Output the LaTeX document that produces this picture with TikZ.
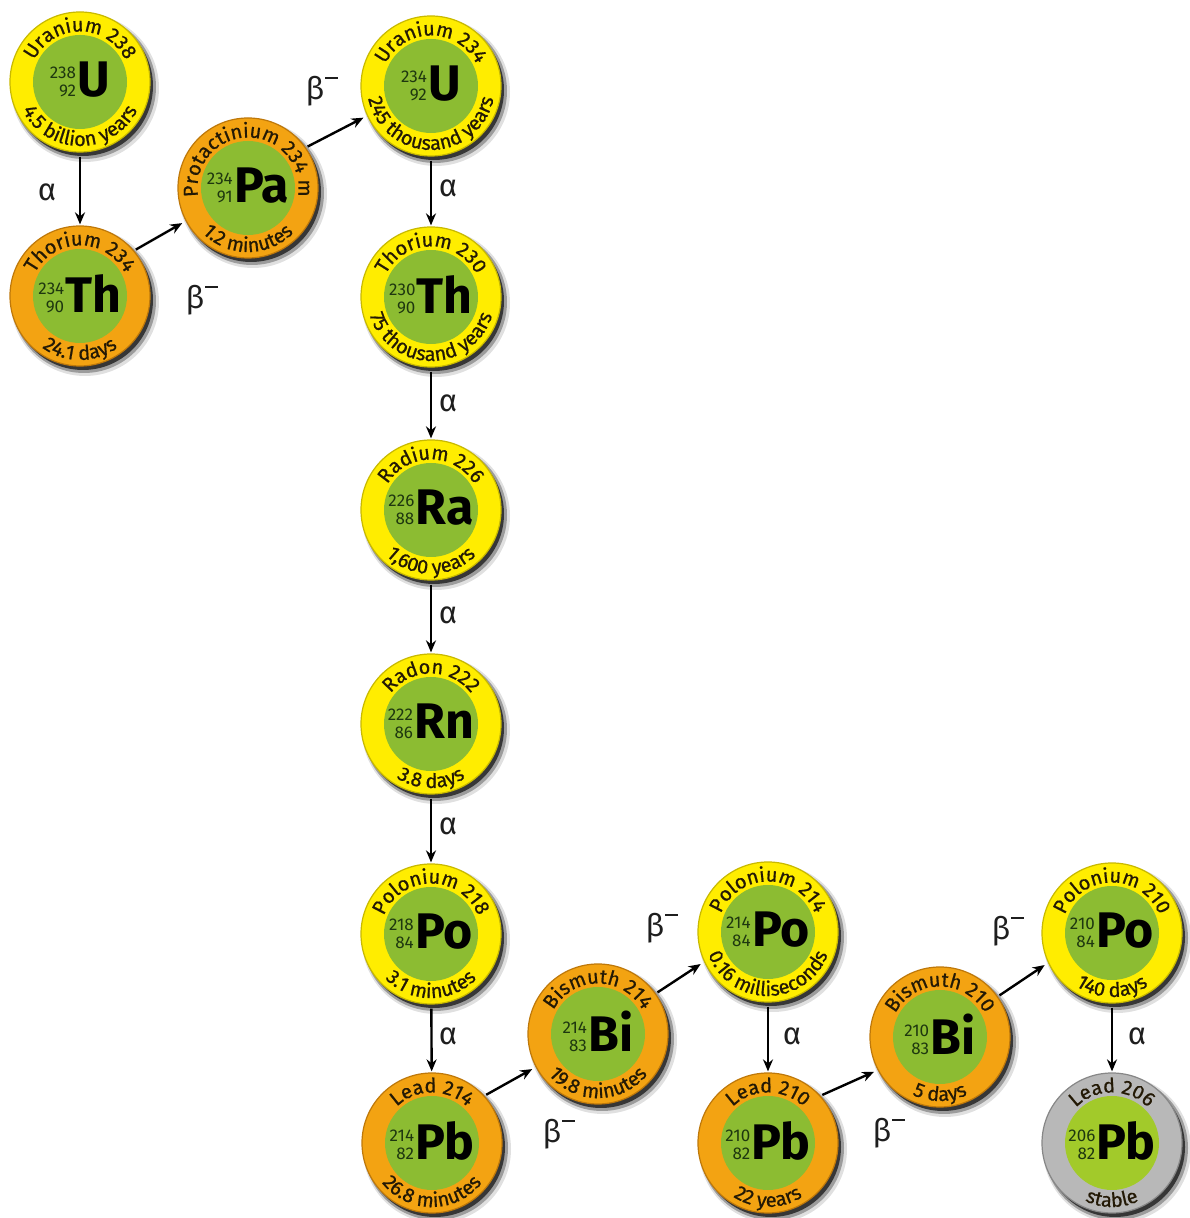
\documentclass[tikz,border=0pt]{standalone}
\usepackage{fontspec}
\setmainfont{Fira Sans}
\newfontfamily\ringfam{Fira Sans}[RawFeature={embolden=0.7}]
\usetikzlibrary{decorations.text,arrows.meta}
\definecolor{ring-y}{RGB}{255,237,0}
\definecolor{edge-y}{RGB}{200,185,0}
\definecolor{core-y}{RGB}{140,188,50}
\definecolor{ring-o}{RGB}{243,163,18}
\definecolor{edge-o}{RGB}{190,120,10}
\definecolor{core-o}{RGB}{140,188,50}
\definecolor{ring-g}{RGB}{184,184,184}
\definecolor{edge-g}{RGB}{135,135,135}
\definecolor{core-g}{RGB}{162,202,42}
\definecolor{numgreen}{RGB}{30,55,15}
\definecolor{ringtext}{RGB}{35,25,5}
\definecolor{labtext}{RGB}{30,30,30}
\newcommand\ringfont{\ringfam\fontsize{20}{20}\selectfont\color{ringtext}}
\newcommand\nucsym[3]{{\fontsize{17}{18}\selectfont\color{numgreen}\begin{tabular}[b]{@{}r@{}}#1\\#2\end{tabular}}\kern1.5pt{\fontsize{50}{50}\selectfont\bfseries #3}}
\newcommand\bminus{β\kern1pt\raisebox{20pt}{\rule{13pt}{1.9pt}}}
\tikzset{
  nuc/.style={circle, minimum size=140pt, inner sep=0pt, line width=1.2pt},
  arr/.style={-{Stealth[length=12pt,width=10pt]}, line width=2.4pt, draw=black},
  vert/.style={arr, shorten <=4pt, shorten >=1pt},
  diag/.style={arr, shorten <=2pt, shorten >=4pt},
  lab/.style={font=\fontsize{31}{31}\selectfont, text=labtext, inner sep=0pt}
}
\newcommand\Nuclide[9]{%
 \fill[black,opacity=0.12] (#2+5,#3-6) circle (74);
 \fill[black,opacity=0.3] (#2+4,#3-5) circle (72);
 \fill[black,opacity=0.65] (#2+3,#3-4) circle (70);
 \node[nuc, fill=ring-#4, draw=edge-#4] (#1) at (#2,#3) {};
 \fill[core-#4] (#2,#3) circle (47);
 \node[inner sep=0pt] (#1-sym) at (#2,#3) {\nucsym{#5}{#6}{#7}};
 \path[decorate,decoration={text along path,text align=center,text={|\ringfont|#8}}]
   ([shift={(215:50.5)}]#2,#3) arc[start angle=215,end angle=-35,radius=50.5];
 \path[decorate,decoration={text along path,text align=center,text={|\ringfont|#9}}]
   ([shift={(150:64)}]#2,#3) arc[start angle=150,end angle=390,radius=64];
}
\begin{document}
\begin{tikzpicture}[x=1pt,y=1pt]
\useasboundingbox (0,0) rectangle (1190,1218);
\Nuclide{u238}{80}{1136}{y}{238}{92}{U}{Uranium 238}{4.5 billion years}
\Nuclide{th234}{80}{922}{o}{234}{90}{Th}{Thorium 234}{24.1 days}
\Nuclide{pa234}{248}{1030}{o}{234}{91}{Pa}{Protactinium 234 m}{1.2 minutes}
\Nuclide{u234}{431}{1132}{y}{234}{92}{U}{Uranium 234}{245 thousand years}
\Nuclide{th230}{431}{921}{y}{230}{90}{Th}{Thorium 230}{75 thousand years}
\Nuclide{ra226}{431}{708}{y}{226}{88}{Ra}{Radium 226}{1,600 years}
\Nuclide{rn222}{431}{494}{y}{222}{86}{Rn}{Radon 222}{3.8 days}
\Nuclide{po218}{431}{284}{y}{218}{84}{Po}{Polonium 218}{3.1 minutes}
\Nuclide{pb214}{432}{75}{o}{214}{82}{Pb}{Lead 214}{26.8 minutes}
\Nuclide{bi214}{598}{184}{o}{214}{83}{Bi}{Bismuth 214}{19.8 minutes}
\Nuclide{po214}{768}{286}{y}{214}{84}{Po}{Polonium 214}{0.16 milliseconds}
\Nuclide{pb210}{768}{75}{o}{210}{82}{Pb}{Lead 210}{22 years}
\Nuclide{bi210}{940}{181}{o}{210}{83}{Bi}{Bismuth 210}{5 days}
\Nuclide{po210}{1112}{285}{y}{210}{84}{Po}{Polonium 210}{140 days}
\Nuclide{pb206}{1112}{75}{g}{206}{82}{Pb}{Lead 206}{stable}
% decays
\draw[vert] (u238) -- (th234);
\draw[diag] (th234.40) -- (pa234.208);
\draw[diag] (pa234.35) -- (u234.205);
\draw[vert] (u234) -- (th230);
\draw[vert] (th230) -- (ra226);
\draw[vert] (ra226) -- (rn222);
\draw[vert] (rn222) -- (po218);
\draw[vert] (po218) -- (pb214);
\draw[diag] (pb214.42) -- (bi214.208);
\draw[diag] (bi214.35) -- (po214.205);
\draw[vert] (po214) -- (pb210);
\draw[diag] (pb210.42) -- (bi210.208);
\draw[diag] (bi210.35) -- (po210.205);
\draw[vert] (po210) -- (pb206);
% labels
\node[lab] (a1) at (47,1026) {α};
\node[lab] (a2) at (448,1030) {α};
\node[lab] (a3) at (448,815) {α};
\node[lab] (a4) at (448,603) {α};
\node[lab] (a5) at (448,392) {α};
\node[lab] (a6) at (448,182) {α};
\node[lab] (a7) at (792,182) {α};
\node[lab] (a8) at (1137,182) {α};
\node[lab] (b1) at (202,918) {\bminus};
\node[lab] (b2) at (322,1127) {\bminus};
\node[lab] (b3) at (559,84) {\bminus};
\node[lab] (b4) at (662,290) {\bminus};
\node[lab] (b5) at (889,85) {\bminus};
\node[lab] (b6) at (1008,287) {\bminus};
\end{tikzpicture}
\end{document}
